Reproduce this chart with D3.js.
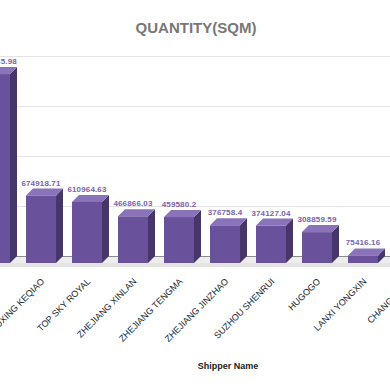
<!DOCTYPE html>
<html>
<head>
<meta charset="utf-8">
<script src="https://cdn.jsdelivr.net/npm/d3@7"></script>
<style>
  html, body { margin: 0; padding: 0; background: #fff; }
  svg { display: block; }
</style>
</head>
<body>
<svg id="chart" width="390" height="390"></svg>
<script>
// ---- data ----
const categories = [
  "ZHEJIANG HUAYI",
  "SHAOXING KEQIAO",
  "TOP SKY ROYAL",
  "ZHEJIANG XINLAN",
  "ZHEJIANG TENGMA",
  "ZHEJIANG JINZHAO",
  "SUZHOU SHENRUI",
  "HUGOGO",
  "LANXI YONGXIN",
  "CHANGHONG"
];
const quantities = [1889465.98, 674918.71, 610964.63, 466866.03, 459580.2, 376758.4, 374127.04, 308859.59, 75416.16, 20000];
const valueLabels = ["1889465.98", "674918.71", "610964.63", "466866.03", "459580.2", "376758.4", "374127.04", "308859.59", "75416.16", "20000"];
const yTicks = [0, 500000, 1000000, 1500000, 2000000];
const chartTitle = "QUANTITY(SQM)";
const xAxisTitle = "Shipper Name";

// ---- layout ----
const svg = d3.select("#chart");
const depth = 7;           // 3D offset (back plane is +depth x, -depth y)
const barW = 30;
const x = d3.scaleBand().domain(categories).range([-28, -28 + 46 * categories.length]).padding(0);
const y = d3.scaleLinear().domain([0, 2000000]).range([256, 56]); // back plane
const colFront = "#69519c", colTop = "#8a73b8", colSide = "#46366a";

// title
svg.append("text")
  .attr("x", 196).attr("y", 33)
  .attr("text-anchor", "middle")
  .attr("font-family", "Liberation Sans, Arial, sans-serif")
  .attr("font-weight", "bold").attr("font-size", 15)
  .attr("fill", "#777").text(chartTitle);

// gridlines
svg.append("g").selectAll("line").data(yTicks.filter(t => t > 0)).join("line")
  .attr("x1", 0).attr("x2", 390)
  .attr("y1", d => Math.round(y(d)) + 0.5).attr("y2", d => Math.round(y(d)) + 0.5)
  .attr("stroke", "#e3e3e3").attr("stroke-width", 1.2);

// floor
const y0 = y(0);
svg.append("path")
  .attr("d", `M${-40},${y0} L390,${y0} L390,${y0 + depth} L${-40},${y0 + depth} Z`)
  .attr("fill", "#ededed");
svg.append("rect").attr("x", -40).attr("y", y0 + depth).attr("width", 440).attr("height", 4)
  .attr("fill", "#e4e4e4");
svg.append("line").attr("x1", -40).attr("x2", 390)
  .attr("y1", y0 + 0.5).attr("y2", y0 + 0.5)
  .attr("stroke", "#8a8a8a").attr("stroke-width", 1);

// bars
const data = categories.map((c, i) => ({ c, v: quantities[i], label: valueLabels[i] }));
const g = svg.append("g");
const bars = g.selectAll("g.bar").data(data).join("g").attr("class", "bar");
bars.each(function(d) {
  const gx = d3.select(this);
  const fx = x(d.c) + 8;               // front left
  const fTop = y(d.v) + depth;         // front top
  const fBot = y(0) + depth;           // front bottom
  // side
  gx.append("path")
    .attr("d", `M${fx + barW},${fTop} L${fx + barW + depth},${fTop - depth} L${fx + barW + depth},${fBot - depth} L${fx + barW},${fBot} Z`)
    .attr("fill", colSide);
  // top
  gx.append("path")
    .attr("d", `M${fx},${fTop} L${fx + depth},${fTop - depth} L${fx + barW + depth},${fTop - depth} L${fx + barW},${fTop} Z`)
    .attr("fill", colTop);
  // front
  gx.append("rect")
    .attr("x", fx).attr("y", fTop).attr("width", barW).attr("height", fBot - fTop)
    .attr("fill", colFront);
  // value label
  gx.append("text")
    .attr("x", fx + barW / 2).attr("y", fTop - 10)
    .attr("text-anchor", "middle")
    .attr("font-family", "Liberation Sans, Arial, sans-serif")
    .attr("font-weight", "bold").attr("font-size", 8)
    .attr("letter-spacing", 0.15)
    .attr("fill", "#7763ad").text(d.label);
});

// category labels
svg.append("g").selectAll("text").data(categories).join("text")
  .attr("transform", d => `translate(${x(d) + 8 + barW / 2 + 4},282) rotate(-45)`)
  .attr("text-anchor", "end")
  .attr("font-family", "Liberation Sans, Arial, sans-serif")
  .attr("font-size", 9)
  .attr("fill", "#222").text(d => d);

// x axis title
svg.append("text")
  .attr("x", 228).attr("y", 369)
  .attr("text-anchor", "middle")
  .attr("font-family", "Liberation Sans, Arial, sans-serif")
  .attr("font-weight", "bold").attr("font-size", 9)
  .attr("fill", "#222").text(xAxisTitle);
</script>
</body>
</html>
